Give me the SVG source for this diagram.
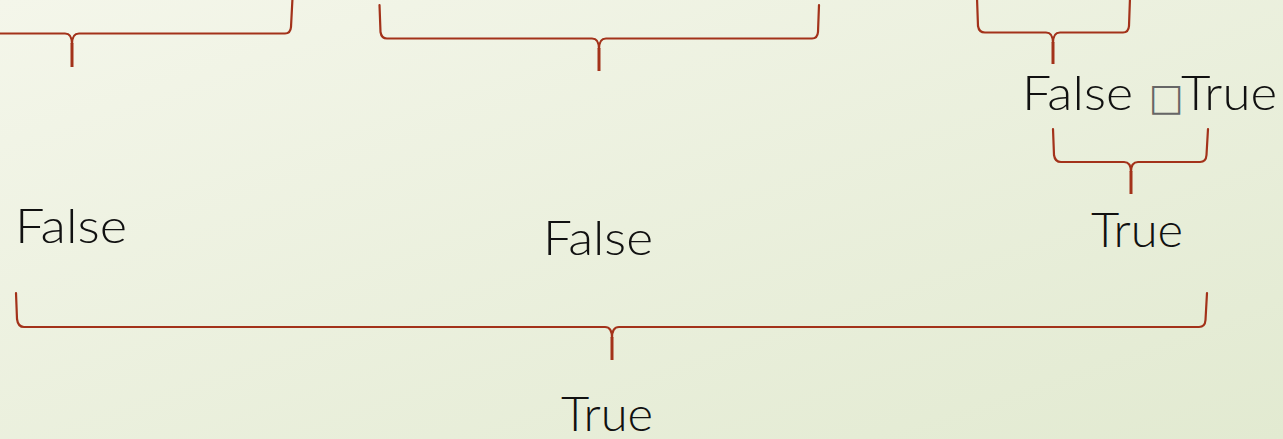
<svg xmlns="http://www.w3.org/2000/svg" width="1283" height="439" viewBox="0 0 1283 439">
  <defs>
    <linearGradient id="bg" x1="0" y1="0" x2="1" y2="1">
      <stop offset="0" stop-color="#f4f6ea"/>
      <stop offset="1" stop-color="#e2ead1"/>
    </linearGradient>
  </defs>
  <style>
    .brace { fill: none; stroke: #a3321a; stroke-width: 2.2; stroke-linecap: round; stroke-linejoin: round; }
    .tip { fill: none; stroke: #a3321a; stroke-width: 3; stroke-linecap: butt; }
    .lbl { font-family: Lato, "Liberation Sans", sans-serif; font-weight: 300; font-size: 47px; fill: #111; }
    .tofu { font-family: "DejaVu Sans", sans-serif; font-weight: 400; fill: #666; }
  </style>

  <rect x="0" y="0" width="1283" height="439" fill="url(#bg)"/>

  <!-- braces -->
  <g id="connectors">
    <g id="brace-top-left">
      <path class="brace" d="M -10 33.5 L 65 33.5 Q 72 33.5 72 44 M 72 44 Q 72 33.5 79 33.5 L 285 33.5 Q 290.5 33.5 291 27 L 292.5 -2"/>
      <path class="tip" d="M 72 43 L 72 67"/>
    </g>
    <g id="brace-top-middle">
      <path class="brace" d="M 379.5 5 L 380.5 32 Q 381.5 38.5 387 38.5 L 592 38.5 Q 599 38.5 599 49 M 599 49 Q 599 38.5 606 38.5 L 812 38.5 Q 817.5 38.5 818 32 L 819 5"/>
      <path class="tip" d="M 599 48 L 599 71"/>
    </g>
    <g id="brace-top-right">
      <path class="brace" d="M 977 -2 L 978 26 Q 979 32.5 985 32.5 L 1046 32.5 Q 1053 32.5 1053 43 M 1053 43 Q 1053 32.5 1060 32.5 L 1123 32.5 Q 1128.5 32.5 1129 26 L 1130 -2"/>
      <path class="tip" d="M 1053 42 L 1053 64"/>
    </g>
    <g id="brace-right">
      <path class="brace" d="M 1053 129 L 1054 155 Q 1055 162 1061 162 L 1124 162 Q 1131 162 1131 172 M 1131 172 Q 1131 162 1138 162 L 1200 162 Q 1206 162 1206.5 155 L 1208 129"/>
      <path class="tip" d="M 1131 171 L 1131 194"/>
    </g>
    <g id="brace-bottom">
      <path class="brace" d="M 16 293 L 17 319 Q 18 327 24 327 L 605 327 Q 612 327 612 338 M 612 338 Q 612 327 619 327 L 1199 327 Q 1205 327 1205.5 320 L 1207 293"/>
      <path class="tip" d="M 612 337 L 612 360"/>
    </g>
  </g>

  <!-- labels -->
  <g id="label-false-left">
    <text class="lbl" x="15" y="243" textLength="112" lengthAdjust="spacingAndGlyphs">False</text>
  </g>
  <g id="label-false-middle">
    <text class="lbl" x="543" y="255" textLength="110" lengthAdjust="spacingAndGlyphs">False</text>
  </g>
  <g id="label-false-true">
    <text class="lbl" y="110"><tspan x="1022" textLength="111" lengthAdjust="spacingAndGlyphs">False</tspan><tspan class="tofu" x="1149" font-size="37">□</tspan><tspan x="1181" textLength="96" lengthAdjust="spacingAndGlyphs">True</tspan></text>
  </g>
  <g id="label-true-right">
    <text class="lbl" x="1091" y="247" textLength="92" lengthAdjust="spacingAndGlyphs">True</text>
  </g>
  <g id="label-true-bottom">
    <text class="lbl" x="561" y="431" textLength="92" lengthAdjust="spacingAndGlyphs">True</text>
  </g>
</svg>
